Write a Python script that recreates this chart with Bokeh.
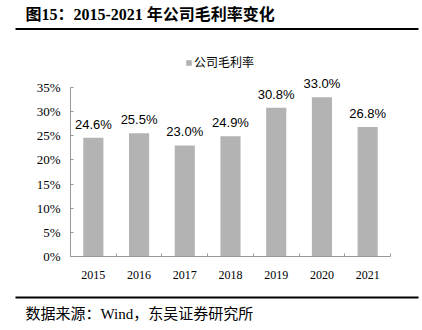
from bokeh.plotting import figure
from bokeh.models import (ColumnDataSource, Range1d, FixedTicker, NumeralTickFormatter,
                          Legend, LegendItem, LabelSet)
from bokeh.layouts import column
from bokeh.core.properties import value
from bokeh.embed import file_html
from bokeh.resources import INLINE

# ---- data ----
years = ["2015", "2016", "2017", "2018", "2019", "2020", "2021"]
gross_margin = [24.6, 25.5, 23.0, 24.9, 30.8, 33.0, 26.8]
y_ticks = [0, 5, 10, 15, 20, 25, 30, 35]
title_text = "图15：2015-2021 年公司毛利率变化"
series_name = "公司毛利率"
source_text = "数据来源：Wind，东吴证券研究所"

SERIF = "Liberation Serif, Times New Roman, Noto Sans CJK SC"
SANS = "Liberation Sans, Arial, sans-serif"
CJK = "Liberation Serif, Noto Sans CJK SC"
BAR = "#B3B3B3"
AXIS = "#999999"
W = 422


def blank(h):
    f = figure(width=W, height=h, x_range=Range1d(0, W), y_range=Range1d(h, 0),
               x_axis_type=None, y_axis_type=None, frame_align=False,
               output_backend="svg", toolbar_location=None, min_border=0)
    f.grid.visible = False
    f.outline_line_color = None
    return f


# ---- title strip ----
top = blank(30)
top.text(x=[25], y=[14], text=[title_text], text_font=value(CJK),
         text_font_style="bold", text_font_size="16px", text_baseline="middle",
         text_align="left", text_color="#000000")
top.segment(x0=[15], y0=[28.5], x1=[418], y1=[28.5], line_color="#000000", line_width=2)

# ---- main chart ----
idx = list(range(1, len(years) + 1))
src = ColumnDataSource(dict(
    x=idx,
    top=[v / 100 for v in gross_margin],
    label=[f"{v:.1f}%" for v in gross_margin],
))

H, BT, BB = 262, 5, 36
frame_h = H - BT - BB
axis_px = 169  # pixel height of the 0..35% span
y_max = y_ticks[-1] / 100
y_top = y_max * frame_h / axis_px

p = figure(width=W, height=H, x_range=Range1d(0.5, len(years) + 0.5),
           y_range=Range1d(0, y_top), frame_align=False,
           output_backend="svg", toolbar_location=None,
           min_border_left=70, min_border_right=32, min_border_top=BT, min_border_bottom=BB)
p.grid.visible = False
p.outline_line_color = None

bars = p.vbar(x="x", top="top", width=0.44, source=src, fill_color=BAR, line_color=None)
labels = LabelSet(x="x", y="top", text="label", source=src, text_align="center",
                  text_baseline="alphabetic", y_offset=9, text_font=value(SANS),
                  text_font_size=value("13px"), text_color="#000000")
p.add_layout(labels)

xa = p.xaxis[0]
xa.ticker = FixedTicker(ticks=idx, minor_ticks=[i + 0.5 for i in range(len(years) + 1)])
xa.major_label_overrides = {i: y for i, y in zip(idx, years)}
xa.major_tick_line_color = None
xa.minor_tick_in = 3
xa.minor_tick_out = 0
xa.minor_tick_line_color = AXIS
xa.axis_line_color = AXIS
xa.major_label_standoff = 8
xa.major_label_text_font = SERIF
xa.major_label_text_font_size = "12px"
xa.major_label_text_color = "#000000"

ya = p.yaxis[0]
ya.ticker = FixedTicker(ticks=[t / 100 for t in y_ticks])
ya.formatter = NumeralTickFormatter(format="0%")
ya.bounds = (0, y_max)
ya.major_tick_in = 3
ya.major_tick_out = 0
ya.minor_tick_line_color = None
ya.major_tick_line_color = AXIS
ya.axis_line_color = AXIS
ya.major_label_standoff = 10
ya.major_label_text_font = SERIF
ya.major_label_text_font_size = "13px"
ya.major_label_text_color = "#000000"

legend = Legend(items=[LegendItem(label=series_name, renderers=[bars])],
                location=(115, 185), orientation="horizontal",
                border_line_color=None, background_fill_alpha=0,
                padding=0, margin=0, glyph_width=7, glyph_height=7,
                label_standoff=2, label_text_font=CJK, label_text_font_size="12px",
                label_text_color="#000000")
p.add_layout(legend, "center")

# ---- source strip ----
bot = blank(38)
bot.segment(x0=[15], y0=[5], x1=[418], y1=[5], line_color="#000000", line_width=2)
bot.text(x=[25], y=[21], text=[source_text], text_font=value(CJK),
         text_font_size="15px", text_baseline="middle", text_align="left",
         text_color="#000000")

layout = column(top, p, bot, spacing=0)
open("out.html", "w").write(file_html(layout, INLINE))
